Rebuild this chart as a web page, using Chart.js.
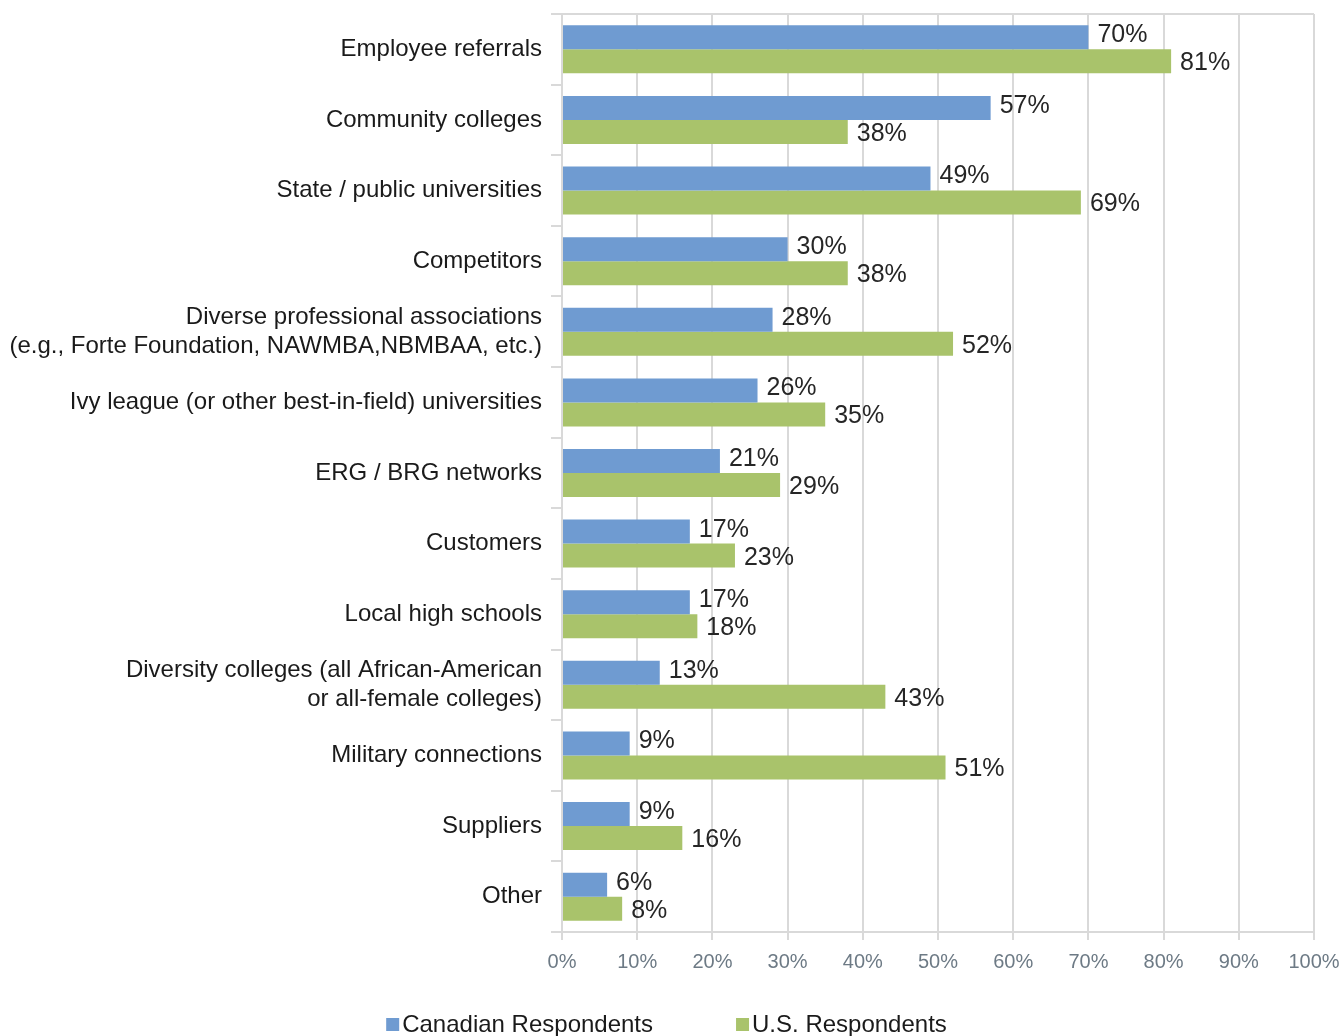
<!DOCTYPE html>
<html lang="en">
<head>
    <meta charset="UTF-8">
    <title>Recruiting sources</title>
    <script src="https://cdn.jsdelivr.net/npm/chart.js"></script>
    <style>
        html, body { margin: 0; padding: 0; background: #fff; }
        #wrap { width: 1343px; height: 1036px; overflow: hidden; }
    </style>
</head>
<body>
    <div id="wrap">
        <canvas id="grafico" width="1343" height="1036"></canvas>
    </div>

    <script>
        const categorias = [
            "Employee referrals",
            "Community colleges",
            "State / public universities",
            "Competitors",
            ["Diverse professional associations", "(e.g., Forte Foundation, NAWMBA,NBMBAA, etc.)"],
            "Ivy league (or other best-in-field) universities",
            "ERG / BRG networks",
            "Customers",
            "Local high schools",
            ["Diversity colleges (all African-American", "or all-female colleges)"],
            "Military connections",
            "Suppliers",
            "Other"
        ];
        const canadienses = [70, 57, 49, 30, 28, 26, 21, 17, 17, 13, 9, 9, 6];
        const estadounidenses = [81, 38, 69, 38, 52, 35, 29, 23, 18, 43, 51, 16, 8];
        const ticksX = [0, 10, 20, 30, 40, 50, 60, 70, 80, 90, 100];

        const fuente = "'Liberation Sans', Arial, sans-serif";
        const gris = "#d9d9d9";

        // value labels at the end of each bar
        const etiquetas = {
            id: "etiquetas",
            afterDatasetsDraw(chart) {
                const ctx = chart.ctx;
                ctx.save();
                ctx.font = "25px " + fuente;
                ctx.fillStyle = "#262626";
                ctx.textAlign = "left";
                ctx.textBaseline = "middle";
                chart.data.datasets.forEach((ds, i) => {
                    chart.getDatasetMeta(i).data.forEach((bar, j) => {
                        const dy = i === 0 ? -2 : 2;
                        ctx.fillText(ds.data[j] + "%", bar.x + 9, bar.y + dy);
                    });
                });
                ctx.restore();
            }
        };

        // legend drawn underneath, small square next to the text
        const leyenda = {
            id: "leyenda",
            afterDraw(chart) {
                const ctx = chart.ctx;
                ctx.save();
                ctx.font = "24px " + fuente;
                const caja = 13, hueco = 3, separacion = 83;
                const anchos = chart.data.datasets.map(ds => caja + hueco + ctx.measureText(ds.label).width);
                const total = anchos.reduce((a, b) => a + b, 0) + separacion * (anchos.length - 1);
                let x = (chart.width - total) / 2 - 5;
                const y = 1025;
                chart.data.datasets.forEach((ds, i) => {
                    ctx.fillStyle = ds.backgroundColor;
                    ctx.fillRect(x, y - 7, caja, caja);
                    ctx.fillStyle = "#1a1a1a";
                    ctx.textBaseline = "middle";
                    ctx.fillText(ds.label, x + caja + hueco, y);
                    x += anchos[i] + separacion;
                });
                ctx.restore();
            }
        };

        new Chart(document.getElementById("grafico").getContext("2d"), {
            type: "bar",
            data: {
                labels: categorias,
                datasets: [
                    {
                        label: "Canadian Respondents",
                        data: canadienses,
                        backgroundColor: "#6f9bd1",
                        barPercentage: 1,
                        categoryPercentage: 0.68
                    },
                    {
                        label: "U.S. Respondents",
                        data: estadounidenses,
                        backgroundColor: "#a9c36b",
                        barPercentage: 1,
                        categoryPercentage: 0.68
                    }
                ]
            },
            options: {
                indexAxis: "y",
                responsive: false,
                animation: false,
                layout: { padding: { top: 14, right: 29, left: 0, bottom: 0 } },
                plugins: {
                    legend: { display: false },
                    tooltip: { enabled: false }
                },
                scales: {
                    x: {
                        min: 0,
                        max: 100,
                        afterBuildTicks(scale) {
                            scale.ticks = ticksX.map(v => ({ value: v }));
                        },
                        afterFit(scale) {
                            scale.height = 104;
                            scale.paddingLeft = 0;
                            scale.paddingRight = 0;
                        },
                        ticks: {
                            callback: v => v + "%",
                            color: "#6d7a85",
                            font: { family: fuente, size: 20 },
                            padding: 10,
                            maxRotation: 0
                        },
                        grid: { color: gris, lineWidth: 2, tickLength: 8 },
                        border: { color: gris, width: 2 }
                    },
                    y: {
                        afterFit(scale) {
                            scale.width = 562;
                            scale.paddingTop = 0;
                            scale.paddingBottom = 0;
                        },
                        ticks: {
                            color: "#1a1a1a",
                            font: { family: fuente, size: 24, lineHeight: 1.2 },
                            padding: 9,
                            autoSkip: false
                        },
                        grid: {
                            offset: true,
                            lineWidth: 2,
                            tickLength: 11,
                            tickColor: gris,
                            color: c => c.index === 0 ? gris : "transparent"
                        },
                        border: { color: gris, width: 2 }
                    }
                }
            },
            plugins: [etiquetas, leyenda]
        });
    </script>
</body>
</html>
